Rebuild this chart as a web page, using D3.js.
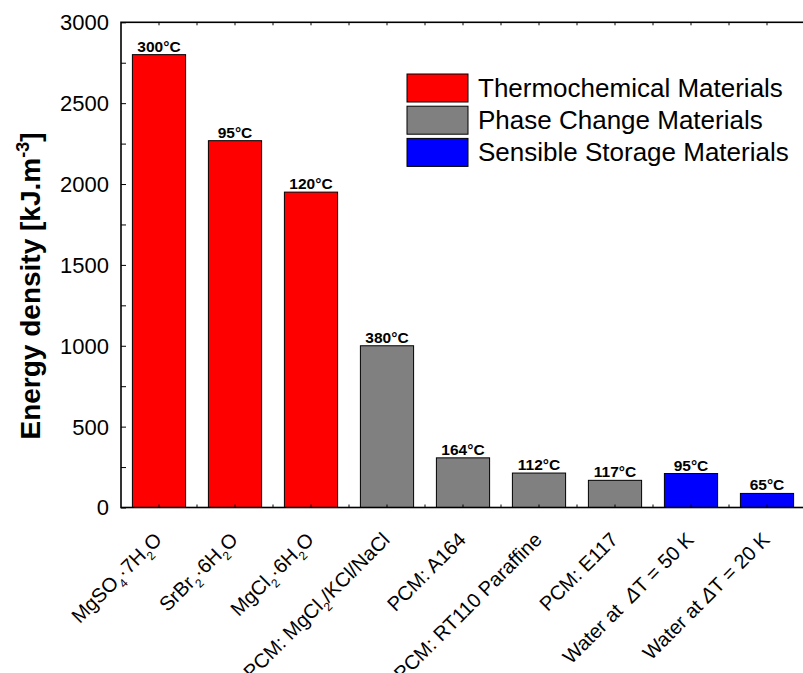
<!DOCTYPE html>
<html>
<head>
<meta charset="utf-8">
<script src="https://cdn.jsdelivr.net/npm/d3@7"></script>
<style>
  html, body { margin: 0; padding: 0; background: #fff; }
  svg { display: block; font-family: Arial, "Liberation Sans", Helvetica, sans-serif; }
</style>
</head>
<body>
<svg id="chart" width="803" height="673"></svg>
<script>
// Materials, in drawing order. "_x" marks a one-character subscript.
const categories = [
  "MgSO_4·7H_2O",
  "SrBr_2·6H_2O",
  "MgCl_2·6H_2O",
  "PCM: MgCl_2/KCl/NaCl",
  "PCM: A164",
  "PCM: RT110 Paraffine",
  "PCM: E117",
  "Water at  ΔT = 50 K",
  "Water at ΔT = 20 K"
];
// Energy density [kJ.m-3]
const values = [2800, 2268, 1950, 1000, 307, 213, 168, 210, 87];
// Operating temperature printed above each bar
const tempLabels = ["300°C", "95°C", "120°C", "380°C", "164°C", "112°C", "117°C", "95°C", "65°C"];
// Storage class of each material (index into groups)
const groupOf = [0, 0, 0, 1, 1, 1, 1, 2, 2];
const groups = ["Thermochemical Materials", "Phase Change Materials", "Sensible Storage Materials"];
const groupColors = ["#ff0000", "#808080", "#0000ff"];
const yTicks = [0, 500, 1000, 1500, 2000, 2500, 3000];

const svg = d3.select("#chart");
const plotLeft = 121, plotRight = 805, plotTop = 22.3, plotBottom = 507.5;

const x = d3.scaleBand()
  .domain(categories)
  .range([plotLeft, plotRight])
  .paddingInner(0.3)
  .paddingOuter(0.15);

const y = d3.scaleLinear().domain([0, 3000]).range([plotBottom, plotTop]);

// Bars
svg.append("g").selectAll("rect")
  .data(categories)
  .join("rect")
  .attr("x", d => x(d))
  .attr("y", (d, i) => y(values[i]))
  .attr("width", x.bandwidth())
  .attr("height", (d, i) => y(0) - y(values[i]))
  .attr("fill", (d, i) => groupColors[groupOf[i]])
  .attr("stroke", "#000")
  .attr("stroke-width", 1);

// Temperature labels above bars
svg.append("g").selectAll("text")
  .data(categories)
  .join("text")
  .attr("x", d => x(d) + x.bandwidth() / 2)
  .attr("y", (d, i) => y(values[i]) - 3)
  .attr("text-anchor", "middle")
  .attr("font-size", 15.5)
  .attr("font-weight", "bold")
  .text((d, i) => tempLabels[i]);

// Y axis: labelled majors plus unlabelled minors, ticks pointing inward
const yMinor = d3.range(0, 3001, 250);
const yAxis = d3.axisRight(y).tickValues(yMinor).tickSize(5).tickFormat("");
const gy = svg.append("g").attr("transform", `translate(${plotLeft},0)`).call(yAxis);
gy.select(".domain").remove();
gy.selectAll(".tick line").attr("stroke", "#000").attr("stroke-width", 1);

svg.append("g").selectAll("text")
  .data(yTicks)
  .join("text")
  .attr("x", plotLeft - 12)
  .attr("y", d => y(d))
  .attr("dy", "0.36em")
  .attr("text-anchor", "end")
  .attr("font-size", 22)
  .text(d => d);

// X axes top and bottom: ticks at band centres and band edges, inward
const xTickPos = [];
categories.forEach(c => {
  const cx = x(c) + x.bandwidth() / 2;
  xTickPos.push(cx, cx + x.step() / 2);
});
const tickG = svg.append("g");
xTickPos.forEach(px => {
  tickG.append("line").attr("x1", px).attr("x2", px).attr("y1", plotBottom).attr("y2", plotBottom - 3)
    .attr("stroke", "#000").attr("stroke-width", 1);
  tickG.append("line").attr("x1", px).attr("x2", px).attr("y1", plotTop).attr("y2", plotTop + 3)
    .attr("stroke", "#000").attr("stroke-width", 1);
});

// Frame
svg.append("rect")
  .attr("x", plotLeft).attr("y", plotTop)
  .attr("width", plotRight - plotLeft).attr("height", plotBottom - plotTop)
  .attr("fill", "none").attr("stroke", "#000").attr("stroke-width", 1.6);

// Rotated category labels: "_x" gives a subscript, Δ is set slanted
function addRich(textSel, s, size) {
  let shifted = false;
  for (let i = 0; i < s.length; i++) {
    if (s[i] === "_" && i + 1 < s.length) {
      textSel.append("tspan").attr("font-size", size * 0.6).attr("dy", size * 0.3).text(s[i + 1]);
      shifted = true;
      i++;
    } else {
      const t = textSel.append("tspan").text(s[i]);
      if (s[i] === "Δ") t.attr("font-style", "italic");
      if (shifted) { t.attr("dy", -size * 0.3); shifted = false; }
    }
  }
}
const labelSize = 20;
const xl = svg.append("g");
categories.forEach(c => {
  const cx = x(c) + x.bandwidth() / 2;
  const t = xl.append("text")
    .attr("transform", `translate(${cx + 4},${541}) rotate(-45)`)
    .attr("text-anchor", "end")
    .attr("font-size", labelSize)
    .style("white-space", "pre");
  addRich(t, c, labelSize);
});

// Y axis title
const yt = svg.append("text")
  .attr("transform", `translate(40,286) rotate(-90)`)
  .attr("text-anchor", "middle")
  .attr("font-size", 28)
  .attr("font-weight", "bold");
yt.append("tspan").text("Energy density [kJ.m");
yt.append("tspan").attr("font-size", 18).attr("dy", -11).text("-3");
yt.append("tspan").attr("dy", 11).text("]");

// Legend
const lg = svg.append("g");
groups.forEach((g, i) => {
  lg.append("rect")
    .attr("x", 407).attr("y", 74 + i * 32.2)
    .attr("width", 61).attr("height", 28)
    .attr("fill", groupColors[i]).attr("stroke", "#000").attr("stroke-width", 1);
  lg.append("text")
    .attr("x", 478).attr("y", 97 + i * 32.2)
    .attr("font-size", 26)
    .text(g);
});
</script>
</body>
</html>
